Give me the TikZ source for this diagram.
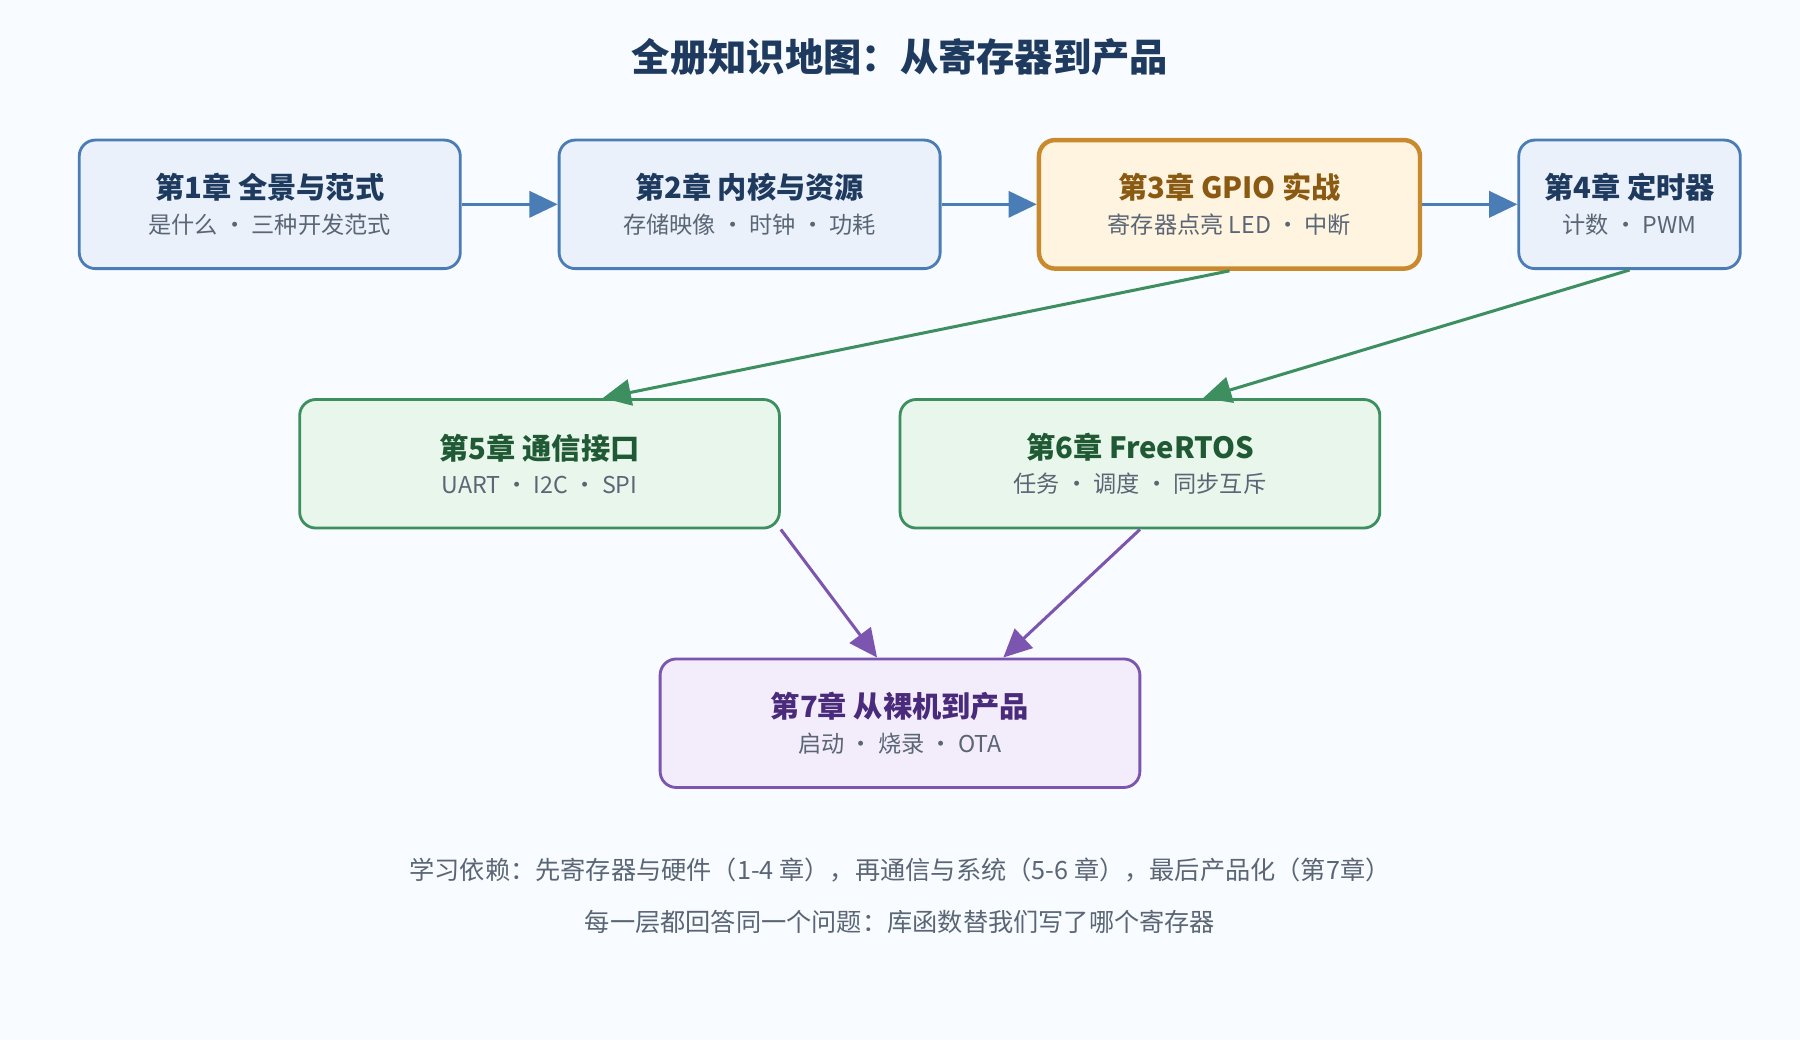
\documentclass[tikz,border=0pt]{standalone}
\usepackage{fontspec}
\setmainfont{Noto Sans CJK SC}
\usetikzlibrary{arrows.meta}
\usetikzlibrary{positioning}

\definecolor{bgcol}{HTML}{F8FBFF}
\definecolor{blueline}{HTML}{4A7DB5}
\definecolor{bluefill}{HTML}{EAF1FB}
\definecolor{bluetext}{HTML}{1F3A5F}
\definecolor{orangeline}{HTML}{C98A2E}
\definecolor{orangefill}{HTML}{FFF4E0}
\definecolor{orangetext}{HTML}{8A5A12}
\definecolor{greenline}{HTML}{3D8F5F}
\definecolor{greenfill}{HTML}{E9F6EC}
\definecolor{greentext}{HTML}{1F5A34}
\definecolor{purpleline}{HTML}{7B55B0}
\definecolor{purplefill}{HTML}{F3ECFA}
\definecolor{purpletext}{HTML}{4A2A7A}
\definecolor{subtext}{HTML}{5A6675}

\newcommand{\chap}[2]{{\fontsize{14.5}{17}\selectfont\bfseries #1}\\[5pt]{\fontsize{11.5}{14}\selectfont\color{subtext}#2}}

\tikzset{
    chapter/.style={
        rectangle, rounded corners=8pt, align=center,
        minimum height=2.24cm, line width=1.4pt,
    },
    bluebox/.style={chapter, draw=blueline, fill=bluefill, text=bluetext},
    orangebox/.style={chapter, draw=orangeline, fill=orangefill, text=orangetext, line width=2.2pt},
    greenbox/.style={chapter, draw=greenline, fill=greenfill, text=greentext},
    purplebox/.style={chapter, draw=purpleline, fill=purplefill, text=purpletext},
    link/.style={line width=1.5pt, -{Triangle[length=14pt,width=13pt]}},
}

\begin{document}
\begin{tikzpicture}[x=0.02cm, y=-0.02cm]
    \fill[bgcol] (0,0) rectangle (1568,906);

    \node (title) at(784,50) [text=bluetext] {\fontsize{19}{22}\selectfont\bfseries 全册知识地图：从寄存器到产品};

    \node (ch1) at(235,178) [bluebox, minimum width=6.64cm] {\chap{第1章 全景与范式}{是什么 · 三种开发范式}};
    \node (ch2) at(653,178) [bluebox, minimum width=6.64cm] {\chap{第2章 内核与资源}{存储映像 · 时钟 · 功耗}};
    \node (ch3) at(1071,178) [orangebox, minimum width=6.64cm] {\chap{第3章 GPIO 实战}{寄存器点亮 LED · 中断}};
    \node (ch4) at(1419.5,178) [bluebox, minimum width=3.86cm] {\chap{第4章 定时器}{计数 · PWM}};

    \node (ch5) at(470,404) [greenbox, minimum width=8.36cm] {\chap{第5章 通信接口}{UART · I2C · SPI}};
    \node (ch6) at(993,404) [greenbox, minimum width=8.36cm] {\chap{第6章 FreeRTOS}{任务 · 调度 · 同步互斥}};

    \node (ch7) at(784,630) [purplebox, minimum width=8.36cm] {\chap{第7章 从裸机到产品}{启动 · 烧录 · OTA}};

    \draw[link, blueline] (ch1) -- (ch2);
    \draw[link, blueline] (ch2) -- (ch3);
    \draw[link, blueline] (ch3) -- (ch4);
    \draw[link, greenline] (ch3.south) -- ([xshift=1.1cm]ch5.north);
    \draw[link, greenline] (ch4.south) -- ([xshift=1.1cm]ch6.north);
    \draw[link, purpleline] (ch5.south east) -- ([xshift=-0.4cm]ch7.north);
    \draw[link, purpleline] (ch6.south) -- ([xshift=1.8cm]ch7.north);

    \node (note1) at(784,758) [text=subtext] {\fontsize{12.5}{15}\selectfont 学习依赖：先寄存器与硬件（1-4 章），再通信与系统（5-6 章），最后产品化（第7章）};
    \node (note2) at(784,803) [text=subtext] {\fontsize{12.5}{15}\selectfont 每一层都回答同一个问题：库函数替我们写了哪个寄存器};
\end{tikzpicture}
\end{document}
